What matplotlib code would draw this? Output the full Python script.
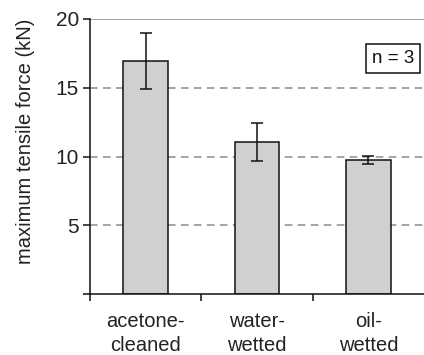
import matplotlib.pyplot as plt

plt.rcParams['font.family'] = ['Liberation Sans', 'DejaVu Sans']

# Mean tensile force per surface condition, with error bars
categories = ['acetone-\ncleaned', 'water-\nwetted', 'oil-\nwetted']
forces = [16.95, 11.05, 9.78]
errors = [2.0, 1.38, 0.29]
yticks = [5, 10, 15, 20]

fig = plt.figure(figsize=(4.24, 3.55), dpi=100)
ax = fig.add_axes([0.2123, 0.171, 0.7877, 0.7755])

x = range(len(categories))
for yv in [5, 10, 15]:
    ax.axhline(yv, color='#8c8c8c', linestyle=(0, (5, 3.5)), linewidth=1.1, zorder=0)
ax.axhline(20, color='#9a9a9a', linewidth=1.3, zorder=0)

ax.bar(x, forces, width=0.4, color='#cfd0cf', edgecolor='#111111', linewidth=1.1, zorder=2)
ax.errorbar(x, forces, yerr=errors, fmt='none', ecolor='#111111', elinewidth=1.1,
            capsize=4, capthick=1.1, zorder=3)

ax.set_xlim(-0.5, 2.5)
ax.set_ylim(0, 20)
ax.set_yticks([0] + yticks)
ax.set_yticklabels([''] + [str(v) for v in yticks], fontsize=15, color='#222222')
ax.set_xticks([-0.5, 0.5, 1.5])
ax.set_xticklabels([])
ax.set_xticks(list(x), minor=True)
ax.set_xticklabels(categories, minor=True, fontsize=14.5, color='#222222', linespacing=1.3)
ax.tick_params(axis='x', which='minor', length=0, pad=13)
ax.tick_params(axis='x', which='major', direction='out', length=5, width=1.1, color='#111111')
ax.tick_params(axis='y', direction='out', length=5, width=1.1, color='#111111', pad=3)

for side in ['top', 'right']:
    ax.spines[side].set_visible(False)
ax.spines['left'].set_linewidth(1.1)
ax.spines['bottom'].set_linewidth(1.1)
ax.spines['left'].set_color('#111111')
ax.spines['bottom'].set_color('#111111')

ax.set_ylabel('maximum tensile force (kN)', fontsize=14.5, color='#222222')
ax.yaxis.set_label_coords(-0.165, 0.555)

ax.text(0.9075, 0.855, 'n = 3', transform=ax.transAxes, ha='center', va='center',
        fontsize=13.5, color='#111111',
        bbox=dict(boxstyle='square,pad=0.32', facecolor='white', edgecolor='#111111', linewidth=1.1))

fig.savefig('out.png', dpi=100)
